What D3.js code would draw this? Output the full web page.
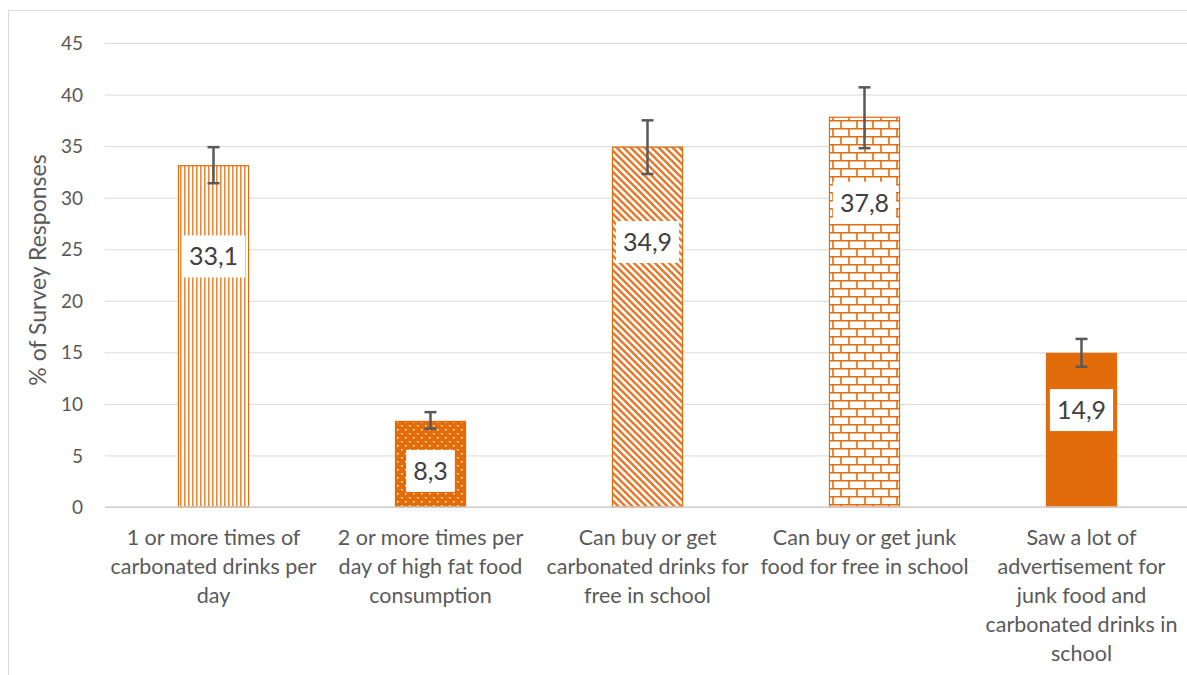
<!DOCTYPE html>
<html><head><meta charset="utf-8">
<script src="https://cdn.jsdelivr.net/npm/d3@7"></script>
<style>
html,body{margin:0;padding:0;background:#fff;}
svg{display:block;font-family:Lato, "Open Sans", sans-serif;}
</style></head>
<body>
<svg id="c" width="1187" height="675"></svg>
<script>
// ---- data ----
const categories = [
  ["1 or more times of", "carbonated drinks per", "day"],
  ["2 or more times per", "day of high fat food", "consumption"],
  ["Can buy or get", "carbonated drinks for", "free in school"],
  ["Can buy or get junk", "food for free in school"],
  ["Saw a lot of", "advertisement for", "junk food and", "carbonated drinks in", "school"]
];
const values = [33.1, 8.3, 34.9, 37.8, 14.9];
const errLow = [31.4, 7.6, 32.3, 34.8, 13.6];
const errHigh = [34.9, 9.2, 37.5, 40.7, 16.3];
const valueLabels = ["33,1", "8,3", "34,9", "37,8", "14,9"];
const labelAt = [24.3, 3.5, 25.7, 29.5, 9.4]; // where the (moved) data labels sit, in axis units
const patterns = ["vlines", "dots", "diag", "brick", "solid"];
const yTicks = [0, 5, 10, 15, 20, 25, 30, 35, 40, 45];
const yTitle = "% of Survey Responses";

// ---- drawing ----
(function () {
const svg = d3.select("#c");
const W = 1187, H = 675;
const orange = "#E36C0A";
const pLeft = 105, pRight = 1190, pTop = 43, pBottom = 507;

// outer border
svg.append("rect").attr("x", 8.5).attr("y", 10.5).attr("width", W + 20).attr("height", H + 20)
  .attr("fill", "none").attr("stroke", "#d9d9d9").attr("stroke-width", 1);

const defs = svg.append("defs");
// vertical lines
let p = defs.append("pattern").attr("id", "vlines").attr("patternUnits", "userSpaceOnUse")
  .attr("width", 4).attr("height", 4);
p.append("rect").attr("width", 4).attr("height", 4).attr("fill", "#fff");
p.append("rect").attr("x", 0).attr("width", 1.6).attr("height", 4).attr("fill", "#EA8A3C");
// dots
p = defs.append("pattern").attr("id", "dots").attr("patternUnits", "userSpaceOnUse")
  .attr("width", 8).attr("height", 8);
p.append("rect").attr("width", 8).attr("height", 8).attr("fill", orange);
p.append("rect").attr("x", 1).attr("y", 1).attr("width", 1.5).attr("height", 1.5).attr("fill", "#fff");
p.append("rect").attr("x", 5).attr("y", 5).attr("width", 1.5).attr("height", 1.5).attr("fill", "#fff");
// diagonal (downward)
p = defs.append("pattern").attr("id", "diag").attr("patternUnits", "userSpaceOnUse")
  .attr("width", 7).attr("height", 7);
p.append("rect").attr("width", 7).attr("height", 7).attr("fill", "#fff");
p.append("path").attr("d", "M-2,5 L2,9 M0,0 L7,7 M5,-2 L9,2")
  .attr("stroke", "#E67A30").attr("stroke-width", 2.6).attr("fill", "none");
// brick
p = defs.append("pattern").attr("id", "brick").attr("patternUnits", "userSpaceOnUse")
  .attr("width", 16).attr("height", 16);
p.append("rect").attr("width", 16).attr("height", 16).attr("fill", "#fff");
p.append("path").attr("d", "M0,0.75 H16 M0,8.75 H16 M1,0 V8 M9,8 V16")
  .attr("stroke", orange).attr("stroke-width", 1.6).attr("fill", "none");

const x = d3.scaleBand().domain(d3.range(categories.length)).range([pLeft, pRight])
  .paddingInner(0.677).paddingOuter(0.3385);
const y = d3.scaleLinear().domain([0, 45]).range([pBottom, pTop]);

// gridlines
const grid = svg.append("g").attr("transform", `translate(${pLeft},0)`)
  .call(d3.axisLeft(y).tickValues(yTicks).tickSize(-(pRight - pLeft)).tickFormat(""));
grid.select(".domain").remove();
grid.selectAll("line").attr("stroke", "#d9d9d9").attr("stroke-width", 1);

// y tick labels
const yax = svg.append("g").attr("transform", `translate(83,0)`)
  .call(d3.axisLeft(y).tickValues(yTicks).tickSize(0).tickPadding(0));
yax.select(".domain").remove();
yax.selectAll("text").attr("fill", "#595959").attr("font-size", 19).attr("dy", "0.35em")
  .attr("font-family", "Lato, sans-serif");

// y title
svg.append("text").attr("transform", `translate(46,270) rotate(-90)`)
  .attr("text-anchor", "middle").attr("fill", "#595959").attr("font-size", 23)
  .text(yTitle);

// bars
svg.append("g").selectAll("rect").data(values).join("rect")
  .attr("x", (d, i) => x(i)).attr("width", x.bandwidth())
  .attr("y", d => y(d)).attr("height", d => y(0) - y(d))
  .attr("fill", (d, i) => patterns[i] === "solid" ? orange : `url(#${patterns[i]})`)
  .attr("stroke", orange).attr("stroke-width", 1.2);

// x axis line
svg.append("line").attr("x1", pLeft).attr("x2", pRight).attr("y1", y(0)).attr("y2", y(0))
  .attr("stroke", "#d0d0d0").attr("stroke-width", 1.5);

// error bars
const eb = svg.append("g").attr("stroke", "#595959").attr("stroke-width", 2.5).attr("fill", "none");
values.forEach((v, i) => {
  const cx = x(i) + x.bandwidth() / 2;
  eb.append("line").attr("x1", cx).attr("x2", cx).attr("y1", y(errHigh[i])).attr("y2", y(errLow[i]));
  eb.append("line").attr("x1", cx - 6).attr("x2", cx + 6).attr("y1", y(errHigh[i])).attr("y2", y(errHigh[i]));
  eb.append("line").attr("x1", cx - 6).attr("x2", cx + 6).attr("y1", y(errLow[i])).attr("y2", y(errLow[i]));
});

// data labels
const lab = svg.append("g");
values.forEach((v, i) => {
  const cx = x(i) + x.bandwidth() / 2;
  const cy = y(labelAt[i]);
  const t = lab.append("text").attr("x", cx).attr("y", cy).attr("dy", "0.36em")
    .attr("text-anchor", "middle").attr("fill", "#404040").attr("font-size", 25)
    .text(valueLabels[i]);
  const bb = t.node().getBBox();
  lab.insert("rect", "text").attr("x", cx - (bb.width + 14) / 2).attr("y", cy - 21)
    .attr("width", bb.width + 14).attr("height", 42).attr("fill", "#fff");
});

// category labels
const cl = svg.append("g");
categories.forEach((lines, i) => {
  const cx = x(i) + x.bandwidth() / 2;
  const t = cl.append("text").attr("text-anchor", "middle").attr("fill", "#595959")
    .attr("font-size", 21.5);
  lines.forEach((s, k) => {
    t.append("tspan").attr("x", cx).attr("y", 545 + k * 29).text(s);
  });
});
})();
</script>
</body></html>
